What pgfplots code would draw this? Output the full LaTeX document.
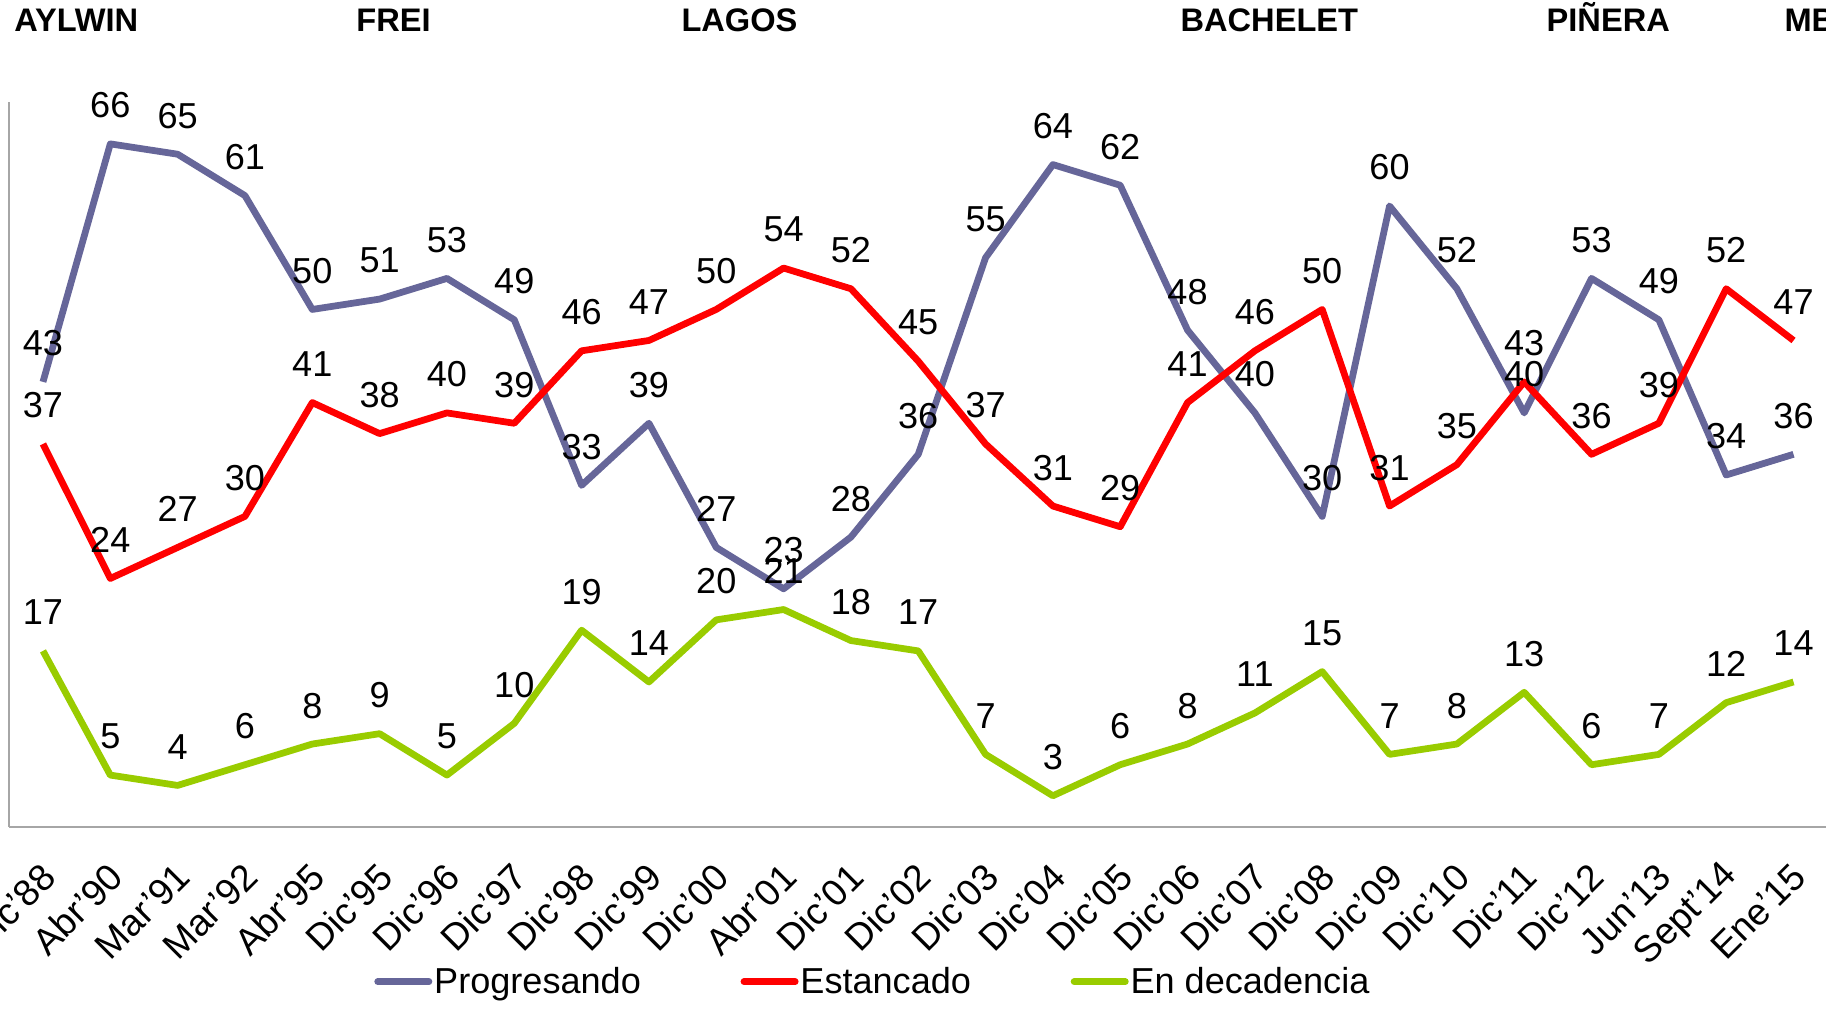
\documentclass[border=0pt]{standalone}
\usepackage{fontspec}
\setmainfont{Liberation Sans}
\usepackage{pgfplots}
\pgfplotsset{compat=1.18}
\definecolor{prog}{HTML}{666699}
\definecolor{est}{HTML}{FF0000}
\definecolor{dec}{HTML}{99CC00}
\begin{document}
\begin{tikzpicture}
\useasboundingbox (0,0) rectangle (784pt,433pt);
\clip (0,0) rectangle (784pt,433pt);
\begin{axis}[
 at={(4pt,78pt)}, anchor=south west, scale only axis, width=780.5pt, height=311pt,
 xmin=-0.5, xmax=26.5, ymin=0, ymax=70,
 axis lines=left, axis line style={-, draw=gray!70, line width=0.8pt},
 ytick=\empty, xtick=data, major tick length=0pt,
 xticklabels={Dic'88,Abr'90,Mar'91,Mar'92,Abr'95,Dic'95,Dic'96,Dic'97,Dic'98,Dic'99,Dic'00,Abr'01,Dic'01,Dic'02,Dic'03,Dic'04,Dic'05,Dic'06,Dic'07,Dic'08,Dic'09,Dic'10,Dic'11,Dic'12,Jun'13,Sept'14,Ene'15},
 xticklabel style={rotate=45, anchor=east, font=\fontsize{16}{16}\selectfont, yshift=-15pt, xshift=-8pt},
 clip=false,
 nodes near coords,
 every node near coord/.append style={anchor=center, yshift=16.5pt, font=\fontsize{15.5}{15.5}\selectfont, text=black},
 /pgf/number format/assume math mode=true,
 legend columns=3,
 legend style={draw=none, fill=none, at={(0.475,-0.2138)}, anchor=center, font=\fontsize{15.5}{15.5}\selectfont, nodes={inner sep=0.8pt}, /tikz/every even column/.append style={column sep=42pt}},
 legend image code/.code={\draw[line width=2.9pt, line cap=round] (0pt,0pt) -- (22pt,0pt);},
]
\addplot[prog, line width=2.9pt, line join=round, mark=none] coordinates {
(0,43)(1,66)(2,65)(3,61)(4,50)(5,51)(6,53)(7,49)(8,33)(9,39)(10,27)(11,23)(12,28)(13,36)(14,55)(15,64)(16,62)(17,48)(18,40)(19,30)(20,60)(21,52)(22,40)(23,53)(24,49)(25,34)(26,36)};
\addlegendentry{Progresando}
\addplot[est, line width=2.9pt, line join=round, mark=none] coordinates {
(0,37)(1,24)(2,27)(3,30)(4,41)(5,38)(6,40)(7,39)(8,46)(9,47)(10,50)(11,54)(12,52)(13,45)(14,37)(15,31)(16,29)(17,41)(18,46)(19,50)(20,31)(21,35)(22,43)(23,36)(24,39)(25,52)(26,47)};
\addlegendentry{Estancado}
\addplot[dec, line width=2.9pt, line join=round, mark=none] coordinates {
(0,17)(1,5)(2,4)(3,6)(4,8)(5,9)(6,5)(7,10)(8,19)(9,14)(10,20)(11,21)(12,18)(13,17)(14,7)(15,3)(16,6)(17,8)(18,11)(19,15)(20,7)(21,8)(22,13)(23,6)(24,7)(25,12)(26,14)};
\addlegendentry{En decadencia}
\end{axis}
\begin{scope}[font=\bfseries\fontsize{14}{14}\selectfont]
\node[anchor=base west, inner sep=0pt] at (6pt,419.5pt) {AYLWIN};
\node[anchor=base, inner sep=0pt] at (169pt,419.5pt) {FREI};
\node[anchor=base, inner sep=0pt] at (317.5pt,419.5pt) {LAGOS};
\node[anchor=base, inner sep=0pt] at (545pt,419.5pt) {BACHELET};
\node[anchor=base, inner sep=0pt] at (690.5pt,419.5pt) {PIÑERA};
\node[anchor=base west, inner sep=0pt] at (766pt,419.5pt) {MB};
\end{scope}
\end{tikzpicture}
\end{document}
